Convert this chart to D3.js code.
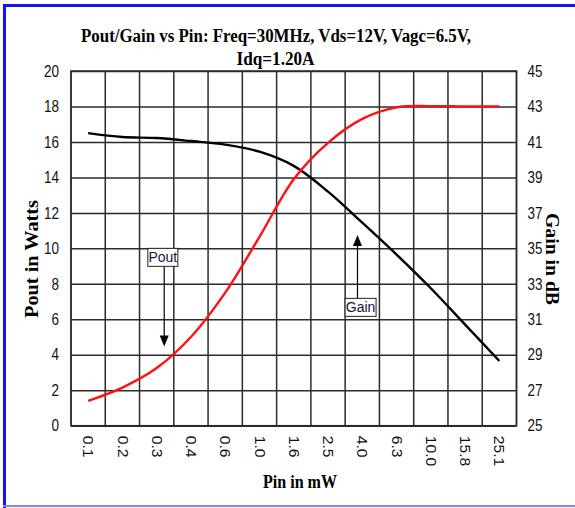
<!DOCTYPE html>
<html>
<head>
<meta charset="utf-8">
<script src="https://cdn.jsdelivr.net/npm/d3@7"></script>
<style>
body { margin: 0; background: #fff; }
</style>
</head>
<body>
<div id="vis"></div>
<script>
// values
var pin = ['0.1', '0.2', '0.3', '0.4', '0.6', '1.0', '1.6', '2.5', '4.0', '6.3', '10.0', '15.8', '25.1'];
var pout = [1.4, 2.15, 3.25, 5.0, 7.5, 10.65, 13.9, 15.95, 17.3, 17.95, 18.02, 18.0, 18.0];
var gain = [41.5, 41.28, 41.22, 41.05, 40.85, 40.45, 39.65, 38.2, 36.45, 34.65, 32.75, 30.7, 28.65];
var poutTicks = [0, 2, 4, 6, 8, 10, 12, 14, 16, 18, 20];
var gainTicks = [25, 27, 29, 31, 33, 35, 37, 39, 41, 43, 45];

var width = 575;
var height = 508;
var margin = { left: 71, top: 71, right: 58.5, bottom: 82.3 };

var svg = d3.select('#vis')
    .append('svg')
        .attr('width', width)
        .attr('height', height);

// blue frame
svg.append('path')
    .attr('d', 'M4.5,508V5.5H575')
    .attr('fill', 'none')
    .attr('stroke', '#1414f0')
    .attr('stroke-width', 3);
svg.append('line')
    .attr('x1', 3).attr('x2', 575)
    .attr('y1', 506).attr('y2', 506)
    .attr('stroke', '#8585f2')
    .attr('stroke-width', 2);

var x0 = margin.left, x1 = width - margin.right;
var y0 = height - margin.bottom, y1 = margin.top;

var x_scale = d3.scaleBand()
    .domain(pin)
    .range([x0, x1])
    .padding(0);

var y_left = d3.scaleLinear()
    .domain([0, 20])
    .range([y0, y1]);

var y_right = d3.scaleLinear()
    .domain([25, 45])
    .range([y0, y1]);

// continuous position across the bands, used for the callouts
function bandPos(v)
{
    return x0 + v * x_scale.bandwidth();
}

var gridColor = '#2b2b2b';

// horizontal grid + left labels
var leftAxis = svg.append('g')
    .attr('transform', 'translate(' + x0 + ',0)')
    .call(d3.axisLeft(y_left)
        .tickValues(poutTicks)
        .tickSize(-(x1 - x0))
        .tickPadding(12)
        .tickFormat(d3.format('d')));
leftAxis.select('.domain').remove();
leftAxis.selectAll('line')
    .attr('stroke', gridColor)
    .attr('stroke-width', 1.5);
leftAxis.selectAll('text')
    .attr('font-family', 'Liberation Sans, Arial, sans-serif')
    .attr('font-size', 13.5)
    .attr('fill', '#111')
    .attr('transform', 'scale(1,1.2)');

// right labels
var rightAxis = svg.append('g')
    .attr('transform', 'translate(' + x1 + ',0)')
    .call(d3.axisRight(y_right)
        .tickValues(gainTicks)
        .tickSize(0)
        .tickPadding(11)
        .tickFormat(d3.format('d')));
rightAxis.select('.domain').remove();
rightAxis.selectAll('text')
    .attr('font-family', 'Liberation Sans, Arial, sans-serif')
    .attr('font-size', 13.5)
    .attr('fill', '#111')
    .attr('transform', 'scale(1,1.2)');

// vertical grid at the band edges
var edges = pin.map(function(d){ return x_scale(d); }).concat([x1]);
svg.append('g')
    .selectAll('line')
    .data(edges)
    .enter()
    .append('line')
        .attr('x1', function(d){ return d; })
        .attr('x2', function(d){ return d; })
        .attr('y1', y1)
        .attr('y2', y0)
        .attr('stroke', gridColor)
        .attr('stroke-width', 1.5);

// bottom labels, rotated
var bottomAxis = svg.append('g')
    .attr('transform', 'translate(0,' + y0 + ')')
    .call(d3.axisBottom(x_scale).tickSize(0));
bottomAxis.select('.domain').remove();
bottomAxis.selectAll('text')
    .attr('font-family', 'Liberation Sans, Arial, sans-serif')
    .attr('font-size', 14)
    .attr('fill', '#111')
    .attr('text-anchor', 'start')
    .attr('x', 9)
    .attr('y', 0)
    .attr('dy', '0.35em')
    .attr('transform', 'rotate(90) scale(1.12,1)');

// plot border
svg.append('rect')
    .attr('x', x0)
    .attr('y', y1)
    .attr('width', x1 - x0)
    .attr('height', y0 - y1)
    .attr('fill', 'none')
    .attr('stroke', gridColor)
    .attr('stroke-width', 1.5);

// curves
var poutLine = d3.line()
    .x(function(d, i){ return x_scale(pin[i]) + x_scale.bandwidth() / 2; })
    .y(function(d){ return y_left(d); })
    .curve(d3.curveCatmullRom.alpha(0.5));

var gainLine = d3.line()
    .x(function(d, i){ return x_scale(pin[i]) + x_scale.bandwidth() / 2; })
    .y(function(d){ return y_right(d); })
    .curve(d3.curveCatmullRom.alpha(0.5));

svg.append('path')
    .datum(gain)
    .attr('d', gainLine)
    .attr('fill', 'none')
    .attr('stroke', '#000')
    .attr('stroke-width', 2.4);

svg.append('path')
    .datum(pout)
    .attr('d', poutLine)
    .attr('fill', 'none')
    .attr('stroke', '#ff1010')
    .attr('stroke-width', 2.4);

// callouts
function callout(label, boxX, boxTop, boxW, arrowX, tipY)
{
    var top = y_left(boxTop);
    var boxH = 18;
    var g = svg.append('g');
    var fromY = tipY < boxTop ? top + boxH : top;
    var tip = y_left(tipY);
    var dir = tip > fromY ? 1 : -1;
    g.append('line')
        .attr('x1', arrowX).attr('x2', arrowX)
        .attr('y1', fromY).attr('y2', tip - dir * 10)
        .attr('stroke', '#000')
        .attr('stroke-width', 1.2);
    g.append('path')
        .attr('d', 'M' + (arrowX - 4.5) + ',' + (tip - dir * 11) + 'L' + (arrowX + 4.5) + ',' + (tip - dir * 11) + 'L' + arrowX + ',' + tip + 'Z')
        .attr('fill', '#000');
    g.append('rect')
        .attr('x', boxX - boxW / 2)
        .attr('y', top)
        .attr('width', boxW)
        .attr('height', boxH)
        .attr('fill', '#fff')
        .attr('stroke', '#222')
        .attr('stroke-width', 1);
    g.append('text')
        .attr('x', boxX)
        .attr('y', top + 14)
        .attr('text-anchor', 'middle')
        .attr('font-family', 'Liberation Sans, Arial, sans-serif')
        .attr('font-size', 14)
        .attr('fill', '#14143a')
        .text(label);
}

callout('Pout', bandPos(2.68), 10.0, 30, bandPos(2.72), 4.46);
callout('Gain', bandPos(8.45), 7.18, 31, bandPos(8.36), 10.75);

// titles
var serif = 'Liberation Serif, Times New Roman, serif';
svg.append('text')
    .attr('x', 276)
    .attr('y', 42)
    .attr('text-anchor', 'middle')
    .attr('font-family', serif)
    .attr('font-weight', 'bold')
    .attr('font-size', 18)
    .attr('textLength', 390)
    .attr('lengthAdjust', 'spacingAndGlyphs')
    .text('Pout/Gain vs Pin: Freq=30MHz, Vds=12V, Vagc=6.5V,');
svg.append('text')
    .attr('x', 275.5)
    .attr('y', 65)
    .attr('text-anchor', 'middle')
    .attr('font-family', serif)
    .attr('font-weight', 'bold')
    .attr('font-size', 18)
    .attr('textLength', 78)
    .attr('lengthAdjust', 'spacingAndGlyphs')
    .text('Idq=1.20A');

svg.append('text')
    .attr('transform', 'translate(38,259) rotate(-90)')
    .attr('text-anchor', 'middle')
    .attr('font-family', serif)
    .attr('font-weight', 'bold')
    .attr('font-size', 18)
    .attr('textLength', 118)
    .attr('lengthAdjust', 'spacingAndGlyphs')
    .text('Pout in Watts');

svg.append('text')
    .attr('transform', 'translate(546,259) rotate(90)')
    .attr('text-anchor', 'middle')
    .attr('font-family', serif)
    .attr('font-weight', 'bold')
    .attr('font-size', 18)
    .attr('textLength', 92)
    .attr('lengthAdjust', 'spacingAndGlyphs')
    .text('Gain in dB');

svg.append('text')
    .attr('x', 300)
    .attr('y', 488)
    .attr('text-anchor', 'middle')
    .attr('font-family', serif)
    .attr('font-weight', 'bold')
    .attr('font-size', 18)
    .attr('textLength', 74)
    .attr('lengthAdjust', 'spacingAndGlyphs')
    .text('Pin in mW');
</script>
</body>
</html>
